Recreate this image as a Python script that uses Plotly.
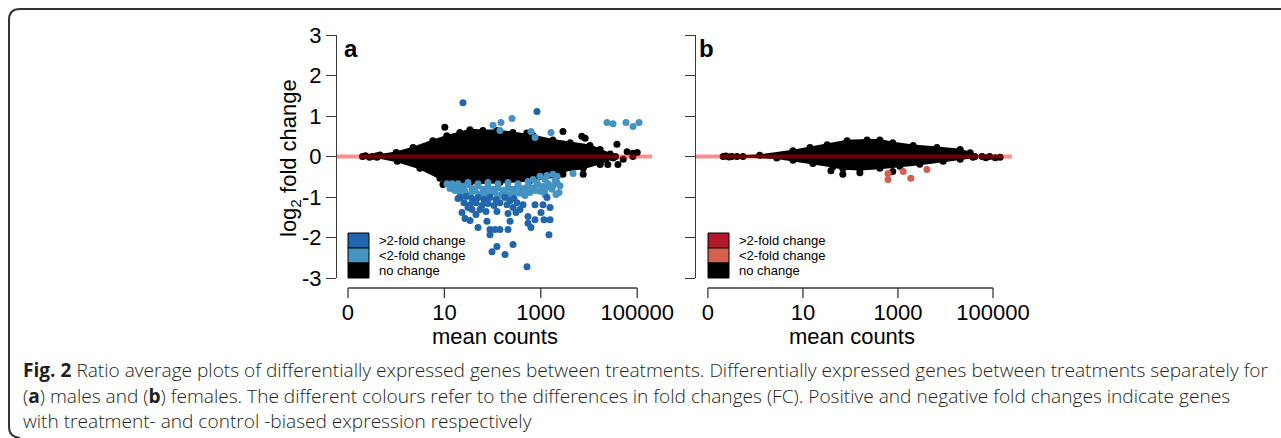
import plotly.graph_objects as go

W, H = 1281, 438

# ---- panel a (males) ----
# outline of the dense black cloud: upper edge left->right, then lower edge right->left
a_up_x = [0.40, 0.46, 1.0, 2.24, 5.75, 11.2, 20.9, 33.9, 63, 123, 263, 692, 1778, 4074, 10471, 16982, 27542, 35481]
a_up_y = [0.02, 0.04, 0.10, 0.22, 0.39, 0.51, 0.59, 0.66, 0.64, 0.64, 0.59, 0.51, 0.41, 0.34, 0.27, 0.17, 0.06, 0.0]
a_lo_x = [31623, 16982, 7586, 2884, 2188, 603, 141, 33.9, 11.2, 8.1, 3.1, 1.05, 0.40]
a_lo_y = [-0.04, -0.17, -0.29, -0.36, -0.49, -0.59, -0.64, -0.66, -0.61, -0.54, -0.29, -0.12, -0.02]

# loose black points (no change)
a_nc_x = [0.20, 0.23, 0.28, 0.32, 10.2, 513, 2884, 7079, 8318, 38019, 61660, 81283,
          16982, 24547, 39811, 51286, 81283, 100000, 7586, 9.35, 2884]
a_nc_y = [0.0, 0.02, -0.02, 0.0, 0.72, 0.58, 0.62, 0.50, 0.45, 0.30, 0.12, 0.08,
          -0.20, -0.20, -0.20, -0.07, 0.0, 0.10, -0.44, -0.69, -0.44]

# <2-fold change
a_lt_x = [102, 149, 253, 142, 626, 758, 1628, 23600, 31500, 58600, 81900, 109000,
          11.3, 14.4, 19.2, 24.3, 30.9, 37.4, 49.8, 63.2, 80.3, 102, 129, 164, 209, 265,
          336, 427, 542, 689, 875, 1111, 1410, 1791, 2167, 689, 962, 1345, 1791, 2167,
          1708, 2385, 4656, 21.1, 34.0, 54.8, 88.3, 142, 230, 370, 597, 962, 26.8, 69.6,
          181, 470, 1222,
          13.1, 16.6, 23.2, 43.2, 112, 292, 758, 1552, 1972, 1222, 834, 542, 336, 209,
          129, 80.3, 49.8, 30.9, 18.3, 14.4, 2502, 2065, 1222, 470, 181, 69.6]
a_lt_y = [0.77, 0.84, 0.94, 0.64, 0.62, 0.47, 0.59, 0.84, 0.81, 0.84, 0.74, 0.84,
          -0.67, -0.72, -0.67, -0.74, -0.69, -0.79, -0.72, -0.81, -0.74, -0.81, -0.77, -0.84, -0.77, -0.81,
          -0.74, -0.79, -0.72, -0.77, -0.69, -0.74, -0.67, -0.72, -0.64, -0.57, -0.49, -0.47, -0.44, -0.49,
          -0.81, -0.89, -0.42, -0.89, -0.94, -0.94, -0.91, -0.96, -0.94, -0.91, -0.89, -0.86, -0.86, -0.89,
          -0.86, -0.84, -0.81,
          -0.79, -0.84, -0.81, -0.86, -0.89, -0.89, -0.84, -0.74, -0.59, -0.57, -0.64, -0.62, -0.67, -0.64,
          -0.67, -0.64, -0.67, -0.64, -0.74, -0.67, -0.72, -0.94, -0.94, -0.96, -0.94, -0.96]

# >2-fold change
a_dk_x = [24.3, 834, 21.1, 28.1, 37.4, 49.8, 66.4, 88.3, 118, 25.5, 34.0, 45.3, 60.3, 80.3, 107,
          37.4, 54.8, 73.0, 23.2, 26.8, 34.0, 49.8, 76.5, 88.3, 112, 123, 97.2, 181, 265, 517,
          181, 230, 278, 199, 265, 209, 306, 230, 370, 542, 542, 626, 1009, 1111, 1164, 1345,
          1552, 1552, 1479, 88.3, 142, 209,
          19.2, 142, 321, 427, 758, 30.9, 45.3, 123, 758]
a_dk_y = [1.33, 1.11, -1.01, -0.99, -1.04, -1.01, -1.06, -1.01, -1.06, -1.14, -1.19, -1.14, -1.21, -1.16, -1.21,
          -1.31, -1.31, -1.36, -1.38, -1.53, -1.58, -1.75, -1.60, -1.80, -1.80, -2.22, -2.35, -2.42, -2.17, -2.72,
          -1.01, -1.09, -1.04, -1.19, -1.26, -1.41, -1.38, -1.60, -1.31, -1.48, -1.65, -1.75, -1.38, -1.19, -1.56, -1.01,
          -1.26, -1.56, -1.93, -1.93, -1.80, -1.80,
          -1.04, -1.14, -1.14, -1.19, -1.19, -1.26, -1.43, -1.36, -1.56]

# ---- panel b (females) ----
b_up_x = [0.41, 1.23, 6.17, 14.1, 32.4, 85.1, 224, 417, 776, 2089, 6607, 20417, 33113, 41687]
b_up_y = [0.0, 0.03, 0.14, 0.22, 0.29, 0.39, 0.41, 0.41, 0.34, 0.27, 0.22, 0.17, 0.09, 0.0]
b_lo_x = [38019, 20417, 8913, 2884, 1096, 417, 158, 69.2, 42.7, 16.2, 6.17, 2.82, 0.55]
b_lo_y = [-0.02, -0.07, -0.12, -0.19, -0.24, -0.29, -0.32, -0.30, -0.25, -0.17, -0.09, -0.04, 0.0]

b_nc_x = [0.21, 0.24, 0.28, 0.32, 38.9, 69.2, 158, 776, 58884, 70795, 85114, 112202, 141254]
b_nc_y = [0.0, 0.01, -0.01, 0.0, -0.35, -0.44, -0.40, -0.37, 0.0, -0.03, 0.0, -0.03, -0.02]

b_lt_x = [617, 617, 1288, 1862, 4074]
b_lt_y = [-0.42, -0.57, -0.37, -0.54, -0.32]

x_ticks = [0.1, 10, 1000, 100000]
x_ticktext = ["0", "10", "1000", "100000"]
y_ticks = [-3, -2, -1, 0, 1, 2, 3]
legend_labels = [">2-fold change", "<2-fold change", "no change"]
caption_lines = [
    "<b>Fig. 2</b> Ratio average plots of differentially expressed genes between treatments. "
    "Differentially expressed genes between treatments separately for",
    "(<b>a</b>) males and (<b>b</b>) females. The different colours refer to the differences in fold "
    "changes (FC). Positive and negative fold changes indicate genes",
    "with treatment- and control -biased expression respectively",
]

BLUE_DK, BLUE_LT = "#2166ac", "#4393c3"
RED_DK, RED_LT = "#b2182b", "#d6604d"
AXIS_COL = "#3a3a3a"
FONT = "Liberation Sans, Arial, sans-serif"


def px(x):
    return x / W


def py(y):
    return 1 - y / H


fig = go.Figure()


def add_panel(xa, ya, up_x, up_y, lo_x, lo_y, nc_x, nc_y, sets):
    fig.add_trace(go.Scatter(
        x=up_x + lo_x, y=up_y + lo_y, xaxis=xa, yaxis=ya, mode="lines+markers",
        fill="toself", fillcolor="black", line=dict(color="black", width=2),
        marker=dict(size=7, color="black"), hoverinfo="skip", showlegend=False,
    ))
    fig.add_trace(go.Scatter(
        x=nc_x, y=nc_y, xaxis=xa, yaxis=ya, mode="markers",
        marker=dict(size=7, color="black"), showlegend=False,
    ))
    for xs, ys, col in sets:
        fig.add_trace(go.Scatter(
            x=xs, y=ys, xaxis=xa, yaxis=ya, mode="markers",
            marker=dict(size=7, color=col), showlegend=False,
        ))


add_panel("x", "y", a_up_x, a_up_y, a_lo_x, a_lo_y, a_nc_x, a_nc_y,
          [(a_lt_x, a_lt_y, BLUE_LT), (a_dk_x, a_dk_y, BLUE_DK)])
add_panel("x2", "y2", b_up_x, b_up_y, b_lo_x, b_lo_y, b_nc_x, b_nc_y,
          [(b_lt_x, b_lt_y, RED_LT)])

ydom = [py(278), py(35)]
xaxis_common = dict(
    type="log", showgrid=False, zeroline=False, showline=False, automargin=False,
    ticks="outside", ticklen=15, tickcolor="rgba(0,0,0,0)",
    tickvals=x_ticks, ticktext=x_ticktext,
    tickfont=dict(family=FONT, size=22, color="black"),
)
yaxis_common = dict(
    range=[-3, 3], domain=ydom, showgrid=False, zeroline=False, showline=True, automargin=False,
    linecolor=AXIS_COL, linewidth=1.3, ticks="outside", ticklen=10, tickwidth=1.3,
    tickcolor=AXIS_COL, tickvals=y_ticks, ticktext=[str(v) for v in y_ticks],
    tickfont=dict(family=FONT, size=22, color="black"),
)

fig.update_layout(
    width=W, height=H, margin=dict(l=0, r=0, t=0, b=0, pad=0, autoexpand=False), autosize=False,
    paper_bgcolor="white", plot_bgcolor="white", showlegend=False,
    xaxis=dict(xaxis_common, domain=[px(337), px(652)], range=[-1.228, 5.307], anchor="y"),
    yaxis=dict(yaxis_common, anchor="x"),
    xaxis2=dict(xaxis_common, domain=[px(696), px(1012)], range=[-1.25, 5.40], anchor="y2"),
    yaxis2=dict(yaxis_common, anchor="x2", showticklabels=False),
)

shapes = []
annotations = []
for xr, yr, cx in (("x", "y", 495), ("x2", "y2", 852)):
    # detached R-style x axis (shape x values are data values on a log axis)
    shapes.append(dict(type="line", xref=xr, yref="paper", x0=x_ticks[0], x1=x_ticks[-1],
                       y0=py(288), y1=py(288), line=dict(color=AXIS_COL, width=1.3)))
    for t in x_ticks:
        shapes.append(dict(type="line", xref=xr, yref="paper", x0=t, x1=t, y0=py(288), y1=py(298),
                           line=dict(color=AXIS_COL, width=1.3)))
    # zero line, semi-transparent red over everything
    shapes.append(dict(type="line", xref=xr + " domain", yref=yr, x0=0, x1=1, y0=0, y1=0,
                       line=dict(color="rgba(255,0,0,0.45)", width=4), layer="above"))
    annotations.append(dict(text="mean counts", xref="paper", yref="paper", x=px(cx), y=py(336),
                            showarrow=False, xanchor="center", yanchor="middle",
                            font=dict(family=FONT, size=22, color="black")))

annotations.append(dict(text="log<sub>2</sub> fold change", textangle=-90, xref="paper", yref="paper",
                        x=px(290), y=py(158), showarrow=False, xanchor="center", yanchor="middle",
                        font=dict(family=FONT, size=22, color="black")))
for lab, lx in (("a", 351), ("b", 707)):
    annotations.append(dict(text="<b>%s</b>" % lab, xref="paper", yref="paper", x=px(lx), y=py(49),
                            showarrow=False, xanchor="center", yanchor="middle",
                            font=dict(family=FONT, size=24, color="black")))

# fill-box legends
for x0, cols in ((348, [BLUE_DK, BLUE_LT, "black"]), (708, [RED_DK, RED_LT, "black"])):
    for i, (col, lab) in enumerate(zip(cols, legend_labels)):
        top = 233 + i * 15
        shapes.append(dict(type="rect", xref="paper", yref="paper", x0=px(x0), x1=px(x0 + 21),
                           y0=py(top + 15), y1=py(top), fillcolor=col, line=dict(color="black", width=1)))
        annotations.append(dict(text=lab, xref="paper", yref="paper", x=px(x0 + 29), y=py(top + 7.5),
                                showarrow=False, xanchor="left", yanchor="middle",
                                font=dict(family=FONT, size=13, color="black")))

# caption
for i, line in enumerate(caption_lines):
    annotations.append(dict(text=line, xref="paper", yref="paper", x=px(21), y=py(370 + i * 25.5),
                            showarrow=False, xanchor="left", yanchor="middle", align="left",
                            font=dict(family="Open Sans, sans-serif", size=19.1, weight=300,
                                      color="#231f20")))

# rounded frame
shapes.append(dict(type="path", xref="paper", yref="paper", layer="below",
                   path="M %f %f L %f %f Q %f %f %f %f L %f %f Q %f %f %f %f" % (
                       px(1300), py(9), px(20), py(9), px(9), py(9), px(9), py(20),
                       px(9), py(427), px(9), py(437), px(20), py(438)),
                   line=dict(color="#333333", width=2)))

fig.update_layout(shapes=shapes, annotations=annotations)
fig.write_html("out.html", config={"displayModeBar": False},
               post_script="document.body.style.margin='0';document.body.style.overflow='hidden';")
